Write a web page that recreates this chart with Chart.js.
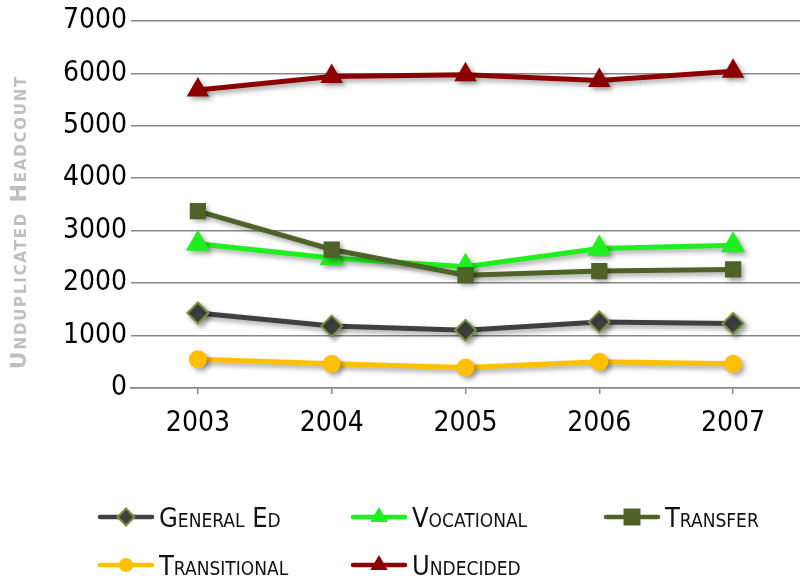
<!DOCTYPE html>
<html>
<head>
<meta charset="utf-8">
<script src="https://cdn.jsdelivr.net/npm/chart.js@4/dist/chart.umd.min.js"></script>
<style>
  body { margin: 0; background: #fff; }
  #wrap { position: relative; width: 800px; height: 584px; }
  #chart { position: absolute; left: 0; top: 0; }
  #legend {
    position: absolute; left: 97px; top: 503px;
    display: grid; grid-template-columns: 253px 253px 200px; grid-auto-rows: 48px;
    font-family: "Liberation Sans Narrow", "DejaVu Sans Condensed", sans-serif;
    font-variant: small-caps; font-size: 27px; color: #111;
  }
  .item { display: flex; align-items: center; height: 28px; }
  .item canvas { margin-right: 4px; }
</style>
</head>
<body>
<div id="wrap">
  <canvas id="chart" width="800" height="584"></canvas>
  <div id="legend"></div>
</div>
<script>
const years = ["2003", "2004", "2005", "2006", "2007"];
const generalEd = [1430, 1180, 1100, 1260, 1230];
const vocational = [2750, 2480, 2310, 2660, 2720];
const transfer = [3370, 2640, 2150, 2230, 2260];
const transitional = [550, 460, 390, 500, 460];
const undecided = [5680, 5940, 5970, 5860, 6040];

const yMin = 0, yMax = 7000, yStep = 1000;
const yTitle = "Unduplicated Headcount";

const tickFont = '"Liberation Sans Narrow", "DejaVu Sans Condensed", sans-serif';
const gridColor = "#878787";

// legend marker sizes differ a bit from the plotted ones
const series = [
  { label: "General Ed", data: generalEd, color: "#404040", style: "rectRot", radius: 10.5, border: "#77933C", borderW: 2, legendR: 8.5, order: 0 },
  { label: "Vocational", data: vocational, color: "#1FEE1F", style: "triangle", radius: 14, legendR: 10, order: 0 },
  { label: "Transfer", data: transfer, color: "#4F6228", style: "rect", radius: 11.5, legendR: 12, order: -1 },
  { label: "Transitional", data: transitional, color: "#FFC000", style: "circle", radius: 9, legendR: 7, order: 0 },
  { label: "Undecided", data: undecided, color: "#8B0000", style: "triangle", radius: 13, legendR: 10, order: 0 },
];

const shadow = {
  id: "shadow",
  beforeDatasetsDraw(chart) {
    const ctx = chart.ctx;
    ctx.save();
    ctx.shadowColor = "rgba(0,0,0,0.35)";
    ctx.shadowBlur = 5;
    ctx.shadowOffsetX = 3;
    ctx.shadowOffsetY = 3;
  },
  afterDatasetsDraw(chart) {
    chart.ctx.restore();
  }
};

// vertical axis title, drawn a little lower than the scale centre
const sideTitle = {
  id: "sideTitle",
  afterDraw(chart) {
    const ctx = chart.ctx;
    ctx.save();
    ctx.translate(20, 222);
    ctx.rotate(-Math.PI / 2);
    ctx.font = 'small-caps bold 22px "DejaVu Sans", sans-serif';
    ctx.letterSpacing = "1.8px";
    ctx.fillStyle = "#BFBFBF";
    ctx.textAlign = "center";
    ctx.textBaseline = "middle";
    ctx.fillText(yTitle, 0, 0);
    ctx.restore();
  }
};

const chart = new Chart(document.getElementById("chart"), {
  type: "line",
  data: {
    labels: years,
    datasets: series.map(s => ({
      label: s.label,
      data: s.data,
      order: s.order,
      borderColor: s.color,
      backgroundColor: s.color,
      borderWidth: 5,
      pointStyle: s.style,
      pointRadius: s.radius,
      pointBackgroundColor: s.color,
      pointBorderColor: s.border || s.color,
      pointBorderWidth: s.borderW || 0,
      tension: 0,
    })),
  },
  options: {
    responsive: false,
    animation: false,
    devicePixelRatio: 1,
    layout: { autoPadding: false, padding: { top: 1, right: 0, bottom: 0, left: 0 } },
    plugins: { legend: { display: false }, tooltip: { enabled: false } },
    scales: {
      x: {
        offset: true,
        grid: { display: true, drawOnChartArea: false, offset: false, tickLength: 6, color: gridColor, lineWidth: 1.5 },
        border: { display: true, color: gridColor, width: 1.5 },
        ticks: { color: "#000", padding: 13, font: { family: tickFont, size: 28 } },
        afterFit(scale) { scale.height = 196; },
      },
      y: {
        min: yMin,
        max: yMax,
        grid: { color: gridColor, lineWidth: 1.5, drawTicks: false },
        border: { display: false },
        ticks: { stepSize: yStep, color: "#000", padding: 4, font: { family: tickFont, size: 28 }, callback: v => String(v) },
        afterFit(scale) { scale.width = 131; },
      },
    },
  },
  plugins: [shadow, sideTitle],
});

// html legend: a short line with the series marker, then the name
function drawMarker(c, s) {
  const ctx = c.getContext("2d");
  const cy = c.height / 2, cx = c.width / 2, r = s.legendR;
  ctx.strokeStyle = s.color;
  ctx.lineWidth = 4.5;
  ctx.lineCap = "round";
  ctx.beginPath();
  ctx.moveTo(3, cy);
  ctx.lineTo(c.width - 3, cy);
  ctx.stroke();
  ctx.fillStyle = s.color;
  ctx.beginPath();
  if (s.style === "circle") {
    ctx.arc(cx, cy, r, 0, Math.PI * 2);
  } else if (s.style === "rect") {
    ctx.rect(cx - r * 0.707, cy - r * 0.707, r * 1.414, r * 1.414);
  } else if (s.style === "rectRot") {
    ctx.moveTo(cx, cy - r); ctx.lineTo(cx + r, cy); ctx.lineTo(cx, cy + r); ctx.lineTo(cx - r, cy);
    ctx.closePath();
  } else {
    ctx.moveTo(cx, cy - r);
    ctx.lineTo(cx + r * 0.866, cy + r * 0.5);
    ctx.lineTo(cx - r * 0.866, cy + r * 0.5);
    ctx.closePath();
  }
  ctx.fill();
  if (s.border) {
    ctx.strokeStyle = s.border;
    ctx.lineWidth = 2;
    ctx.stroke();
  }
}

const legend = document.getElementById("legend");
series.forEach(s => {
  const item = document.createElement("div");
  item.className = "item";
  const c = document.createElement("canvas");
  c.width = 58; c.height = 26;
  drawMarker(c, s);
  const span = document.createElement("span");
  span.textContent = s.label;
  item.appendChild(c);
  item.appendChild(span);
  legend.appendChild(item);
});
</script>
</body>
</html>
